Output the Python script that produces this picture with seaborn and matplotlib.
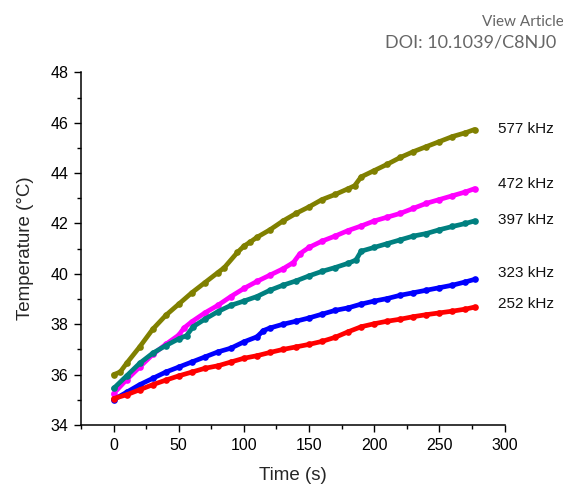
import numpy as np
import pandas as pd
import matplotlib
matplotlib.use("Agg")
import matplotlib.pyplot as plt
from matplotlib.ticker import MultipleLocator
import seaborn as sns

# Heating curves at five excitation frequencies: time (s) vs temperature (°C)
t_577 = [0, 5, 10, 20, 30, 40, 50, 60, 70, 80, 85, 95, 100, 105, 110, 120, 130, 140,
         150, 160, 170, 180, 185, 190, 200, 210, 220, 230, 240, 250, 260, 270, 277]
T_577 = [36.0, 36.1, 36.45, 37.1, 37.8, 38.35, 38.8, 39.25, 39.65, 40.05, 40.25, 40.85,
         41.1, 41.27, 41.45, 41.75, 42.1, 42.4, 42.66, 42.95, 43.15, 43.38, 43.5, 43.85,
         44.1, 44.35, 44.62, 44.85, 45.05, 45.25, 45.45, 45.6, 45.73]

t_472 = [0, 10, 20, 30, 40, 50, 54, 60, 70, 80, 90, 100, 110, 120, 130, 138, 143, 150,
         160, 170, 180, 190, 200, 210, 220, 230, 240, 250, 260, 270, 277]
T_472 = [35.25, 35.8, 36.3, 36.8, 37.2, 37.57, 37.85, 38.1, 38.45, 38.75, 39.1, 39.42,
         39.7, 39.95, 40.2, 40.45, 40.8, 41.05, 41.3, 41.5, 41.72, 41.9, 42.1, 42.25,
         42.4, 42.6, 42.8, 42.95, 43.1, 43.25, 43.38]

t_397 = [0, 10, 20, 30, 40, 50, 56, 61, 70, 80, 90, 100, 110, 120, 130, 140, 150, 160,
         170, 180, 186, 190, 200, 210, 220, 230, 240, 250, 260, 270, 277]
T_397 = [35.45, 35.95, 36.45, 36.85, 37.15, 37.42, 37.55, 37.9, 38.2, 38.5, 38.75, 38.92,
         39.1, 39.35, 39.55, 39.72, 39.92, 40.1, 40.25, 40.42, 40.55, 40.9, 41.05, 41.2,
         41.35, 41.5, 41.6, 41.75, 41.88, 42.0, 42.1]

t_323 = [0, 10, 20, 30, 40, 50, 60, 70, 80, 90, 100, 110, 115, 120, 130, 140, 150, 160,
         170, 180, 190, 200, 210, 220, 230, 240, 250, 260, 270, 277]
T_323 = [35.0, 35.3, 35.6, 35.85, 36.1, 36.3, 36.5, 36.7, 36.9, 37.05, 37.3, 37.5, 37.75,
         37.85, 38.0, 38.12, 38.25, 38.4, 38.55, 38.65, 38.8, 38.92, 39.02, 39.15, 39.25,
         39.35, 39.45, 39.55, 39.68, 39.78]

t_252 = [0, 10, 20, 30, 40, 50, 60, 70, 80, 90, 100, 110, 120, 130, 140, 150, 160, 170,
         180, 190, 200, 210, 220, 230, 240, 250, 260, 270, 277]
T_252 = [35.05, 35.2, 35.4, 35.6, 35.78, 35.95, 36.1, 36.25, 36.35, 36.5, 36.65, 36.75,
         36.88, 37.0, 37.1, 37.2, 37.32, 37.48, 37.7, 37.9, 38.02, 38.12, 38.2, 38.3,
         38.38, 38.45, 38.52, 38.6, 38.68]

freq_labels = ["577 kHz", "472 kHz", "397 kHz", "323 kHz", "252 kHz"]
freq_colors = ["#808000", "#FF00FF", "#008080", "#0000FF", "#FF0000"]
label_y = [45.75, 43.55, 42.15, 40.05, 38.8]

series = [(t_577, T_577), (t_472, T_472), (t_397, T_397), (t_323, T_323), (t_252, T_252)]
frames = []
for name, (t, T) in zip(freq_labels, series):
    frames.append(pd.DataFrame({"time": t, "temp": T, "freq": name}))
df = pd.concat(frames, ignore_index=True)

sns.set_style("ticks")
plt.rcParams["font.family"] = ["Liberation Sans", "DejaVu Sans"]

fig = plt.figure(figsize=(5.63, 4.86), dpi=100)
ax = fig.add_axes([0.1439, 0.1255, 0.7522, 0.7257])

sns.lineplot(data=df, x="time", y="temp", hue="freq", hue_order=freq_labels,
             palette=freq_colors, linewidth=3.4, marker="o", markersize=4.8,
             markeredgewidth=0, legend=False, ax=ax, errorbar=None)

for name, y in zip(freq_labels, label_y):
    ax.text(295, y, name, fontsize=11, color="#111111", va="center", ha="left",
            clip_on=False)

ax.set_xlim(-25, 300)
ax.set_ylim(34, 48)
ax.xaxis.set_major_locator(MultipleLocator(50))
ax.xaxis.set_minor_locator(MultipleLocator(25))
ax.yaxis.set_major_locator(MultipleLocator(2))
ax.yaxis.set_minor_locator(MultipleLocator(1))
ax.tick_params(axis="both", which="major", length=5, width=1.0, labelsize=11.5,
               direction="out", color="black", labelcolor="black", pad=4)
ax.tick_params(axis="both", which="minor", length=3, width=1.0, direction="out",
               color="black")
ax.set_xticks([0, 50, 100, 150, 200, 250, 300])

sns.despine(ax=ax)
for side in ("left", "bottom"):
    ax.spines[side].set_linewidth(1.1)
    ax.spines[side].set_color("black")

ax.set_xlabel("Time (s)", fontsize=13.5, labelpad=10.5)
ax.set_ylabel("Temperature (°C)", fontsize=13.5, labelpad=12)

fig.text(0.857, 0.955, "View Article", fontsize=11, color="#666666",
         family=["Lato", "DejaVu Sans"], ha="left", va="center")
fig.text(0.684, 0.912, "DOI: 10.1039/C8NJ0", fontsize=13, color="#666666",
         family=["Lato", "DejaVu Sans"], ha="left", va="center")

fig.savefig("out.png", dpi=100)
